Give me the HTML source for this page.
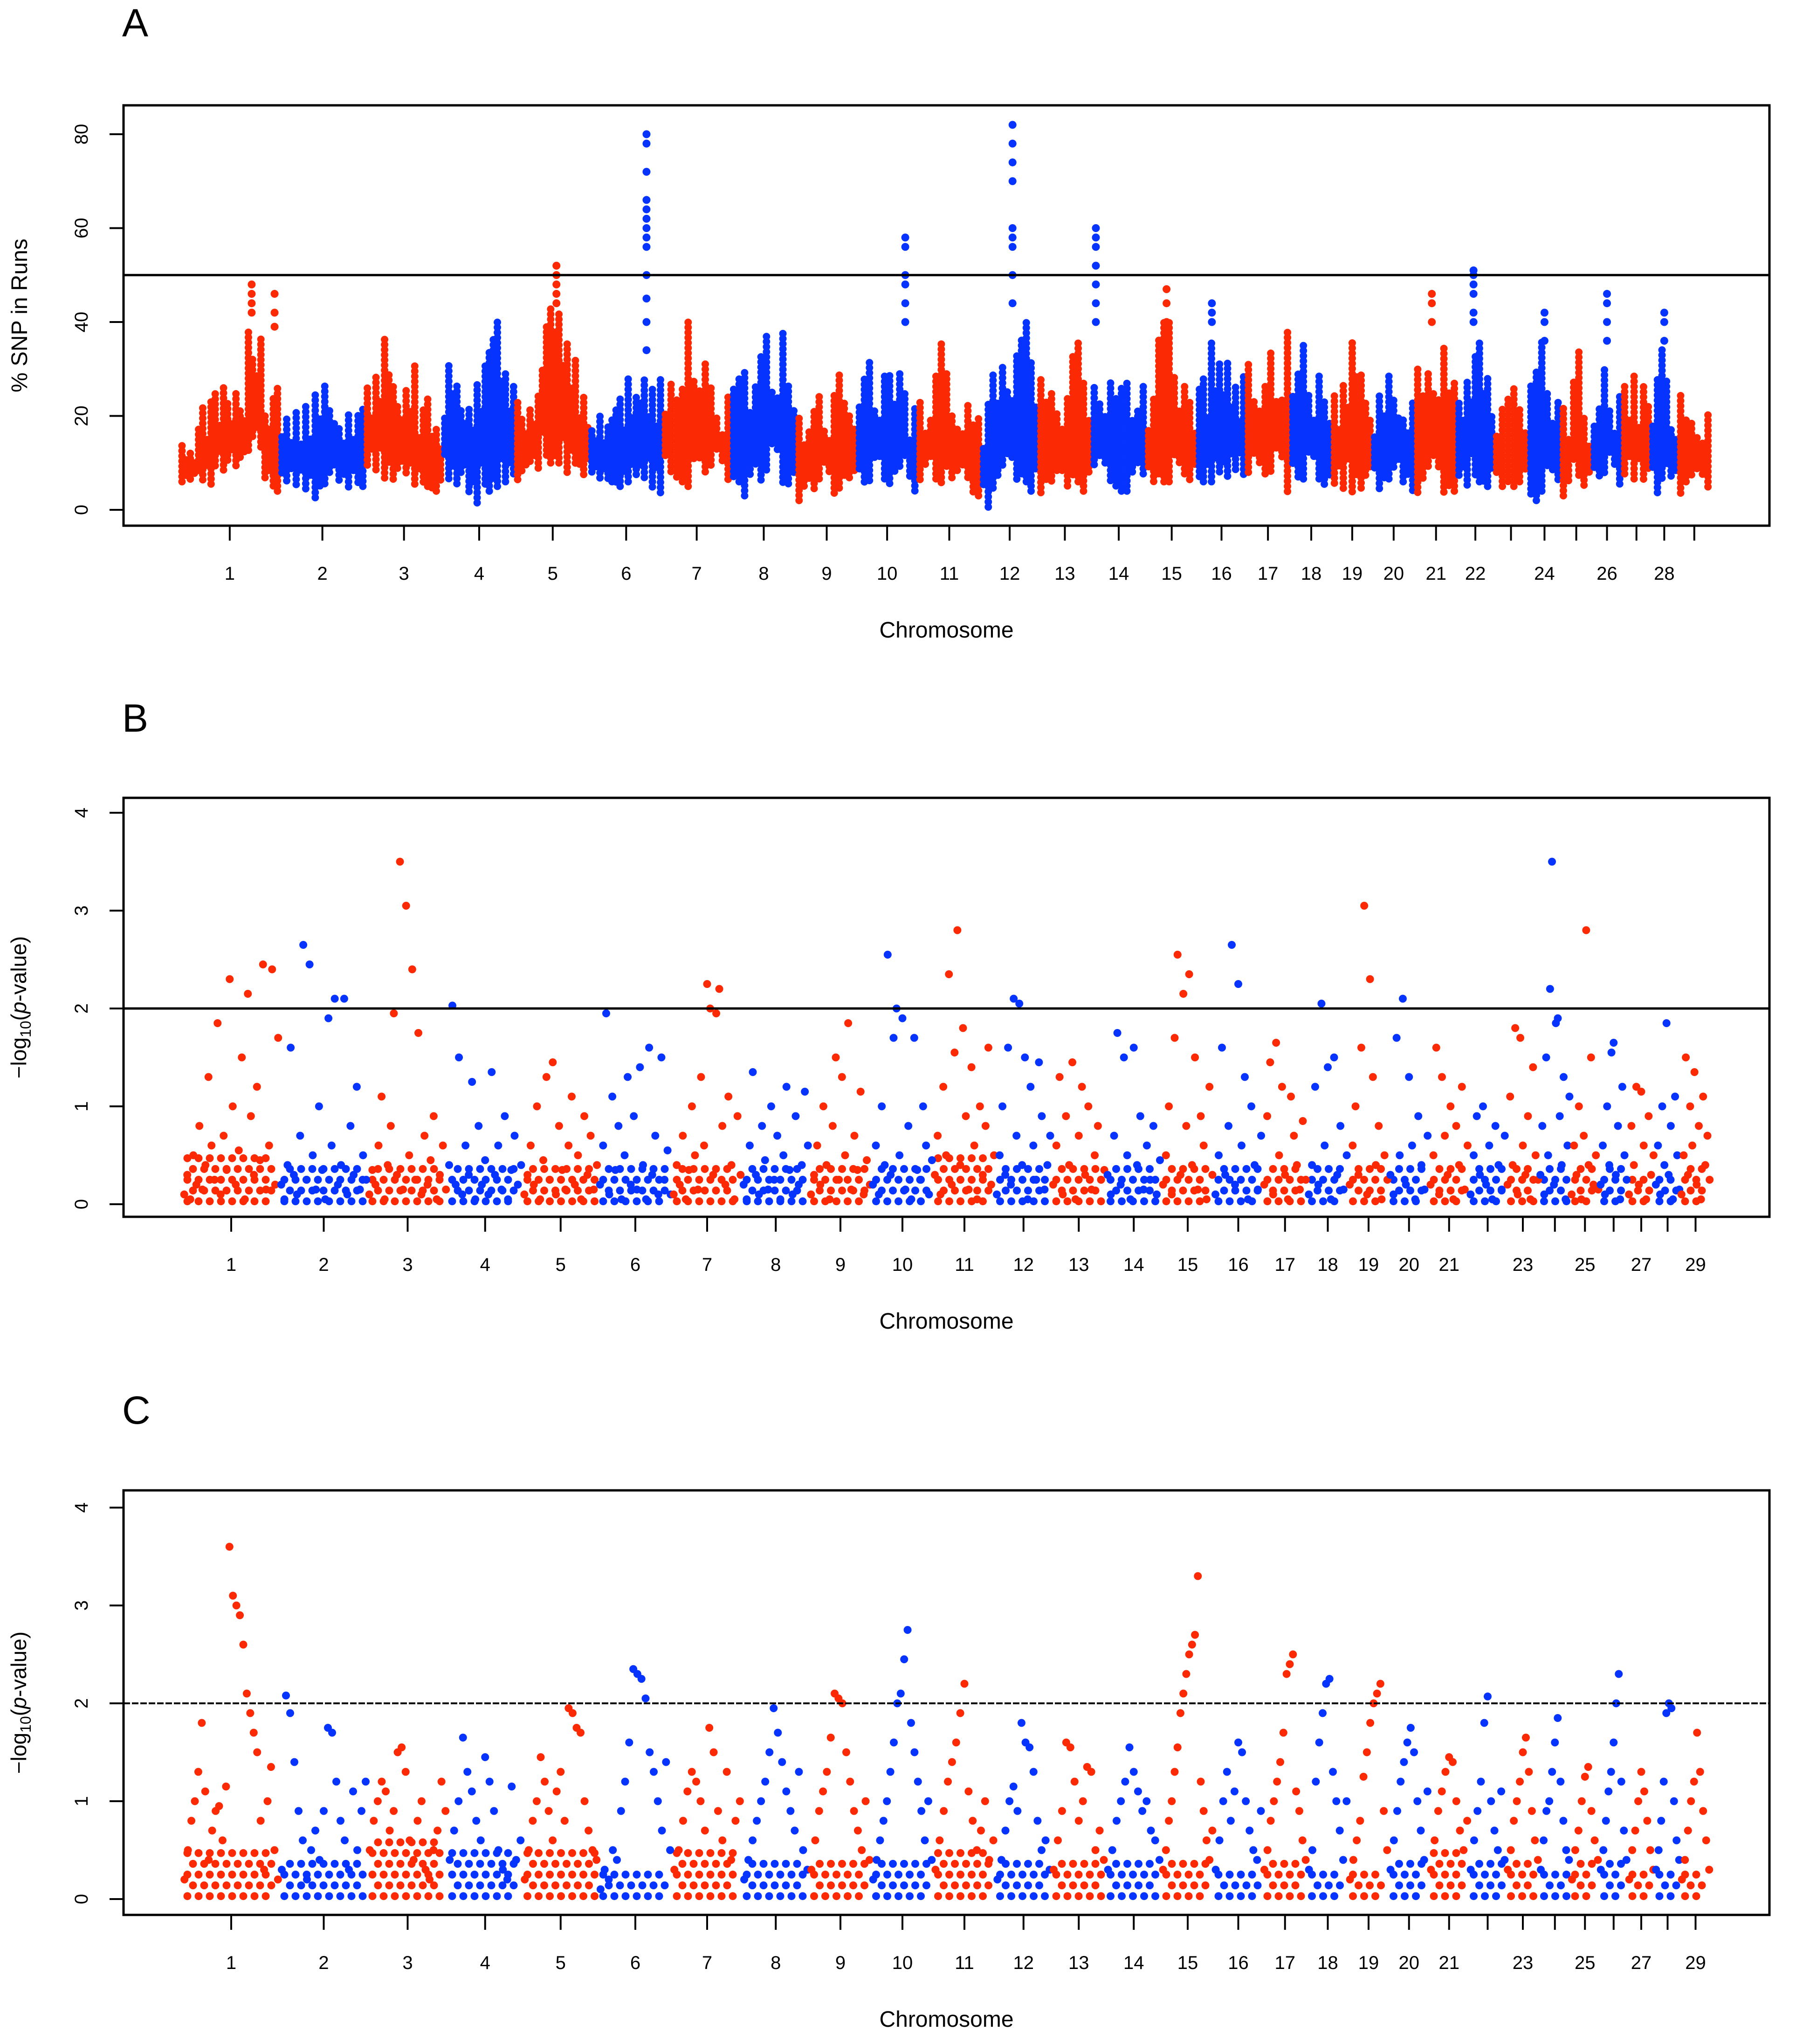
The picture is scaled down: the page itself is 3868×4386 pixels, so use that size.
<!DOCTYPE html>
<html><head><meta charset="utf-8">
<style>
html,body{margin:0;padding:0;background:#fff;}
svg{display:block;font-family:"Liberation Sans",Arial,sans-serif;}
</style></head>
<body>
<svg id="fig" xmlns="http://www.w3.org/2000/svg" width="3868" height="4386" viewBox="0 0 3868 4386">
<rect x="0" y="0" width="3868" height="4386" fill="#fff"/>
<text x="262" y="78" font-size="84">A</text>
<text x="262" y="1570" font-size="84">B</text>
<text x="262" y="3055" font-size="84">C</text>
<g id="pa"></g>
<g id="pb"></g>
<g id="pc"></g>
</svg>
<script>
const NS="http://www.w3.org/2000/svg";
const RED="#fb2a05", BLUE="#0733ff";
const chromLengthsA=[214,184,166.5,156.5,159.5,156,147,141,129.5,130,137,122.5,114.5,117,110.5,103.5,96,90,86,92,90,79,74,70,66.5,65.5,61,58.5,70.5];
const chromLengthsBC=[208,189,171,161.5,162.5,158,150,144.5,133,133,133,120.5,116.5,119.5,112,105,95.5,88,87,86.5,85.5,80,71,66.5,62.5,60.5,58,55,65];
const labelsA=["1","2","3","4","5","6","7","8","9","10","11","12","13","14","15","16","17","18","19","20","21","22","","24","","26","","28",""];
const labelsBC=["1","2","3","4","5","6","7","8","9","10","11","12","13","14","15","16","17","18","19","20","21","","23","","25","","27","","29"];
const ticksA=[0,20,40,60,80];
const ticksBC=[0,1,2,3,4];
// Panel A: per-chromosome bins [lo,hi] of % SNP in runs
const binsA=[
[[6,14],[5,25],[8,28],[9,26],[12,40],[4,26]],
[[5,22],[4,24],[2,26],[5,28],[4,22],[5,22]],
[[8,30],[6,38],[6,28],[4,34],[5,24],[4,18]],
[[6,32],[5,28],[0,30],[4,34],[5,40],[6,30]],
[[6,24],[8,26],[10,43],[10,42],[8,36],[6,28]],
[[6,22],[6,20],[5,24],[6,28],[5,32],[3,30]],
[[7,30],[6,26],[5,40],[6,36],[8,30],[6,26]],
[[6,28],[3,30],[4,38],[6,42],[5,40],[5,28]],
[[2,20],[3,25],[5,28],[3,26],[4,30],[4,26]],
[[4,32],[4,36],[6,30],[5,30],[5,38],[3,24]],
[[5,26],[6,30],[5,38],[4,26],[6,24],[3,20]],
[[0,24],[4,30],[5,40],[5,36],[6,40],[4,32]],
[[3,30],[2,34],[4,26],[6,36],[4,28]],
[[6,34],[5,30],[4,26],[4,28],[6,30]],
[[5,26],[6,40],[6,40],[6,30],[5,26]],
[[6,28],[6,36],[5,36],[7,30]],
[[8,32],[6,30],[6,38],[3,40]],
[[5,34],[4,41],[6,30],[5,24]],
[[4,28],[3,38],[4,30]],
[[4,26],[6,30],[3,26]],
[[3,32],[5,38],[2,38],[4,28]],
[[4,30],[6,36],[5,28]],
[[4,24],[5,26],[6,22]],
[[2,30],[4,36],[5,26]],
[[3,22],[5,39],[4,22]],
[[6,24],[6,34],[5,26]],
[[6,30],[6,28]],
[[3,30],[6,36],[5,22]],
[[3,26],[5,24],[4,22]]];
// Panel A spikes: chromosome index, fraction along chromosome, values
const spikeChrA=[1,1,5,6,10,12,14,22,16,26,24,28,21,15];
const spikePosA=[0.72,0.95,0.55,0.78,0.8,0.55,0.08,0.45,0.3,0.5,0.5,0.5,0.4,0.4];
const spikeValsA=[[42,44,46,48],[39,42,46],[44,46,48,50,52],[34,40,45,50,56,58,60,62,64,66,72,78,80],[40,44,48,50,56,58],[44,50,56,58,60,70,74,78,82],[40,44,48,52,56,58,60],[40,42,46,48,50,51],[40,42,44],[36,40,44,46],[36,40,42],[36,40,42],[40,44,46],[40,44,47]];
// Panel B
const bandB=[0.5,0.45,0.45,0.45,0.45,0.45,0.45,0.45,0.45,0.45,0.5,0.45,0.45,0.45,0.45,0.4,0.4,0.4,0.4,0.4,0.45,0.45,0.4,0.45,0.4,0.4,0.35,0.35,0.4];
const valsB=[
[0.1,0.3,0.05,0.5,0.2,0.8,0.15,0.4,1.3,0.6,0.25,1.85,0.1,0.7,0.35,2.3,1.0,0.2,0.55,1.5,0.05,2.15,0.9,0.3,1.2,0.45,2.45,0.15,0.6,2.4,0.2,1.7],
[0.2,0.05,0.4,1.6,0.3,0.1,0.7,2.65,0.25,2.45,0.5,0.15,1.0,0.35,0.05,1.9,0.6,2.1,0.2,0.4,2.1,0.1,0.8,0.3,1.2,0.15,0.5,0.25],
[0.1,0.35,0.2,0.6,1.1,0.05,0.4,0.8,1.95,0.3,3.5,0.15,3.05,0.5,2.4,0.25,1.75,0.1,0.7,0.2,0.45,0.9,0.05,0.3,0.6,0.15],
[0.4,2.03,0.2,1.5,0.1,0.6,0.3,1.25,0.05,0.8,0.2,0.45,0.1,1.35,0.3,0.6,0.15,0.9,0.05,0.35,0.7,0.2,0.4],
[0.1,0.3,0.6,0.2,1.0,0.05,0.45,1.3,0.25,1.45,0.1,0.8,0.35,0.15,0.6,1.1,0.2,0.5,0.05,0.9,0.3,0.7,0.15,0.4],
[0.2,0.6,1.95,0.1,1.1,0.35,0.8,0.05,0.5,1.3,0.2,0.9,0.15,1.4,0.4,0.05,1.6,0.3,0.7,0.1,1.5,0.25,0.55,0.1],
[0.1,0.4,0.2,0.7,0.05,0.35,1.0,0.5,0.15,1.3,0.6,2.25,2.0,0.3,1.95,2.2,0.8,0.2,1.1,0.4,0.05,0.9,0.3],
[0.2,0.05,0.6,1.35,0.3,0.1,0.8,0.45,0.15,1.0,0.25,0.7,0.05,0.5,1.2,0.35,0.1,0.9,0.2,0.4,1.15,0.6],
[0.1,0.3,0.6,0.2,1.0,0.4,0.05,0.8,1.5,0.25,1.3,0.5,1.85,0.15,0.7,0.35,1.15,0.1,0.45,0.2],
[0.2,0.6,0.1,1.0,0.4,2.55,0.3,1.7,2.0,0.5,1.9,0.15,0.8,0.05,1.7,0.35,0.25,1.0,0.6,0.1,0.45],
[0.3,0.7,0.1,1.2,0.5,2.35,0.2,1.55,2.8,0.4,1.8,0.9,0.15,1.4,0.6,0.05,1.0,0.3,0.8,1.6,0.2,0.5],
[0.1,0.5,1.0,0.3,1.6,0.2,2.1,0.7,2.05,0.4,1.5,0.05,1.2,0.6,0.25,1.45,0.9,0.15,0.4,0.7],
[0.2,0.6,1.3,0.1,0.9,0.4,1.45,0.05,0.7,1.2,0.3,1.0,0.15,0.5,0.8,0.25,0.35],
[0.3,0.1,0.7,1.75,0.2,1.5,0.5,0.05,1.6,0.4,0.9,0.15,0.6,0.25,0.8,0.1,0.45],
[0.2,0.5,1.0,0.1,1.7,2.55,0.3,2.15,0.8,2.35,0.4,1.5,0.15,0.9,0.6,0.05,1.2,0.3],
[0.1,0.5,1.6,0.3,0.8,2.65,0.2,2.25,0.6,1.3,0.05,1.0,0.4,0.15,0.7],
[0.2,0.9,1.45,0.1,1.65,0.5,1.2,0.3,0.05,1.1,0.7,0.4,0.15,0.85,0.25],
[0.1,0.4,1.2,0.2,2.05,0.6,1.4,0.05,1.5,0.3,0.8,0.15,0.5],
[0.2,0.6,1.0,0.3,1.6,3.05,0.1,2.3,1.3,0.4,0.8,0.05,0.5,0.25],
[0.3,0.1,1.7,0.5,2.1,0.2,1.3,0.6,0.05,0.9,0.4,0.15,0.7],
[0.2,0.5,1.6,0.1,1.3,0.7,0.3,1.0,0.05,0.8,0.4,1.2,0.15,0.6],
[0.1,0.5,0.9,0.3,1.0,0.2,0.6,0.05,0.8,0.4,0.15,0.7],
[0.2,1.1,0.4,1.8,0.1,1.7,0.6,0.3,0.9,0.05,1.4,0.5,0.25],
[0.3,0.8,0.1,1.5,0.5,2.2,3.5,0.2,1.85,1.9,0.9,0.4,1.3,0.05,0.6,1.1],
[0.1,0.6,0.3,1.0,0.05,0.7,2.8,0.4,1.5,0.2,0.5,0.15],
[0.2,0.6,0.1,1.0,0.4,1.55,1.65,0.3,0.8,0.05,1.2,0.5,0.25],
[0.1,0.8,0.4,1.2,0.2,1.15,0.6,0.05,0.9,0.3,0.5],
[0.2,0.6,0.1,1.0,0.4,1.85,0.3,0.8,0.05,1.1,0.5,0.15],
[0.1,0.5,1.5,0.3,1.0,0.6,1.35,0.2,0.8,0.05,1.1,0.4,0.7,0.25]];
// Panel C
const bandC=[0.5,0.4,0.6,0.5,0.5,0.35,0.5,0.45,0.45,0.4,0.55,0.45,0.45,0.45,0.4,0.35,0.4,0.35,0.3,0.4,0.5,0.45,0.45,0.35,0.4,0.45,0.35,0.35,0.35];
const valsC=[
[0.2,0.5,0.8,1.0,1.3,1.8,1.1,0.4,0.7,0.9,0.95,0.6,1.15,3.6,3.1,3.0,2.9,2.6,2.1,1.9,1.7,1.5,0.8,0.3,1.0,1.35,0.5,0.2],
[0.3,2.08,1.9,1.4,0.9,0.6,0.2,0.5,0.7,0.4,0.9,1.75,1.7,1.2,0.8,0.6,0.3,1.1,0.5,0.9,1.2],
[0.5,0.8,1.0,1.2,1.1,0.7,0.9,1.5,1.55,1.3,0.6,0.4,0.8,1.0,0.3,0.2,0.5,0.7,1.2,0.9],
[0.4,0.7,1.0,1.65,1.3,1.1,0.8,0.6,1.45,1.2,0.9,0.5,0.3,0.2,1.15,0.4,0.6],
[0.2,0.5,0.8,1.0,1.45,1.2,0.9,0.6,1.1,1.3,0.8,1.95,1.9,1.75,1.7,1.0,0.7,0.5,0.4],
[0.1,0.3,0.2,0.5,0.4,0.9,1.2,1.6,2.35,2.3,2.25,2.05,1.5,1.3,1.0,0.7,1.4,0.5],
[0.3,0.5,0.8,1.1,1.3,1.2,1.0,0.7,1.75,1.5,0.9,0.6,1.3,0.4,0.8,1.0],
[0.2,0.4,0.6,0.8,1.0,1.2,1.5,1.95,1.7,1.4,1.1,0.9,0.7,1.3,0.5,0.3],
[0.3,0.6,0.9,1.1,1.3,1.65,2.1,2.05,2.0,1.5,1.2,0.9,0.7,0.5,1.0,0.4],
[0.2,0.4,0.6,0.8,1.0,1.3,1.6,2.0,2.1,2.45,2.75,1.8,1.5,1.2,0.9,0.6,1.0,0.4],
[0.3,0.6,0.9,1.2,1.4,1.6,1.9,2.2,1.1,0.8,0.5,0.7,1.0,0.4,0.6],
[0.2,0.4,0.7,1.0,1.15,0.9,1.8,1.6,1.55,1.3,0.8,0.5,0.6,0.3],
[0.3,0.6,0.9,1.6,1.55,1.2,0.8,1.0,1.35,1.3,0.5,0.7,0.4],
[0.3,0.5,0.8,1.0,1.2,1.55,1.3,1.1,0.9,1.0,0.7,0.6,0.4],
[0.3,0.5,0.8,1.0,1.3,1.55,1.9,2.1,2.3,2.5,2.6,2.7,3.3,1.2,0.9,0.6,0.4,0.7],
[0.3,0.6,1.0,1.3,0.8,1.1,1.6,1.5,1.0,0.7,0.5,0.4,0.9],
[0.3,0.5,0.8,1.0,1.2,1.4,1.7,2.3,2.4,2.5,1.1,0.9,0.6,0.4],
[0.3,0.5,1.2,1.6,1.9,2.2,2.25,1.3,1.0,0.7,0.4,1.0],
[0.2,0.4,0.6,0.8,1.25,1.5,1.8,2.0,2.1,2.2,0.9,0.5],
[0.3,0.6,0.9,1.2,1.4,1.6,1.75,1.5,1.0,0.7,0.4,1.1],
[0.3,0.6,0.9,1.1,1.3,1.45,1.4,1.0,0.7,0.5,0.8],
[0.3,0.6,0.9,1.2,1.8,2.07,1.0,0.7,0.5,1.1,0.4],
[0.3,0.5,0.8,1.0,1.2,1.5,1.65,1.3,0.9,0.6,0.4],
[0.3,0.6,0.9,1.0,1.3,1.6,1.85,1.2,0.8,0.5,0.4],
[0.2,0.5,0.7,1.0,1.25,1.35,0.9,0.6,0.4],
[0.3,0.5,0.8,1.1,1.3,1.6,2.0,2.3,1.2,0.7,0.4],
[0.2,0.5,0.7,1.0,1.3,1.1,0.8,0.5,0.3],
[0.3,0.5,0.8,1.2,1.9,2.0,1.95,1.0,0.6,0.4],
[0.2,0.4,0.7,1.0,1.2,1.7,1.3,0.9,0.6,0.3]];

// ---- layout ----
const BOX_L=265, BOX_R=3796, R=8.5;
function makeLayout(lengths,L,Rr){
  const total=lengths.reduce((a,b)=>a+b,0);
  const starts=[]; let c=0; for(const v of lengths){starts.push(c); c+=v;}
  const xm=m=>L+(m/total)*(Rr-L);
  return {lengths, x0:i=>xm(starts[i]), w:i=>xm(starts[i]+lengths[i])-xm(starts[i])};
}
const layA=makeLayout(chromLengthsA,386,3670);
const layBC=makeLayout(chromLengthsBC,392,3670);
function col(i){return i%2===0?RED:BLUE;}
function mk(tag,attrs,parent){const e=document.createElementNS(NS,tag);for(const k in attrs)e.setAttribute(k,attrs[k]);parent.appendChild(e);return e;}

function axes(g,cfg){
  const yS=cfg.yScale, lay=cfg.lay;
  const box=mk("rect",{x:BOX_L,y:cfg.top,width:BOX_R-BOX_L,height:cfg.bottom-cfg.top,fill:"none",stroke:"#000","stroke-width":5},g);
  
  
  const th=mk("line",{x1:BOX_L,x2:BOX_R,y1:yS(cfg.thr),y2:yS(cfg.thr),stroke:"#000","stroke-width":cfg.dash?4:5},g);
  if(cfg.dash) th.setAttribute("stroke-dasharray","14 4");
  
  
  cfg.yticks.forEach(v=>{
    const y=yS(v);
    const t=mk("line",{x1:BOX_L-30,x2:BOX_L,y1:y,y2:y,stroke:"#000","stroke-width":4},g);
    
    
    const tx=mk("text",{x:0,y:0,transform:`translate(188,${y}) rotate(-90)`,"text-anchor":"middle","font-size":40},g);
    tx.textContent=String(v);
    
    
  });
  lay.lengths.forEach((L,i)=>{
    const x=lay.x0(i)+lay.w(i)/2;
    const t=mk("line",{x1:x,x2:x,y1:cfg.bottom,y2:cfg.bottom+32,stroke:"#000","stroke-width":4},g);
    
    
    if(cfg.xlabels[i]){
      const tx=mk("text",{x:x,y:cfg.bottom+116,"text-anchor":"middle","font-size":40},g);
      tx.textContent=cfg.xlabels[i];
      
      
    }
  });
  const xt=mk("text",{x:(BOX_L+BOX_R)/2,y:cfg.bottom+240,"text-anchor":"middle","font-size":48},g);
  xt.textContent="Chromosome";
  
  
}
function yTitleLog(g,cy,id){
  const t=mk("text",{x:0,y:0,transform:`translate(56,${cy}) rotate(-90)`,"text-anchor":"middle","font-size":46},g);
  t.innerHTML='\u2212log<tspan font-size="32" dy="10">10</tspan><tspan dy="-10">(</tspan><tspan font-style="italic">p</tspan>-value)';
  
  
}

// ---- Panel A ----
(function(){
  const g=document.getElementById("pa");
  const top=226,bottom=1128, lay=layA;
  const yS=v=>1094-v*10.075;
  const colPattern=[1,0.66,0.86,0.55,0.95,0.74,0.6,0.9];
  const dots=mk("g",{},g);
  
  
  binsA.forEach((bins,i)=>{
    const x0=lay.x0(i),w=lay.w(i),bw=w/bins.length;
    bins.forEach((b,j)=>{
      const n=Math.max(2,Math.round(bw/10));
      for(let k=0;k<n;k++){
        const x=x0+j*bw+(k+0.5)*bw/n;
        const f=colPattern[(k+j+i)%colPattern.length];
        const hi=b[0]+(b[1]-b[0])*f;
        const lo=b[0]+(b[1]-b[0])*(1-f)*0.5;
        const ln=mk("line",{x1:x,x2:x,y1:yS(lo),y2:yS(hi),stroke:col(i),"stroke-width":16,"stroke-linecap":"round","stroke-dasharray":"0 11"},dots);
        
        
      }
    });
  });
  spikeChrA.forEach((c,s)=>{
    const i=c-1,x=lay.x0(i)+lay.w(i)*spikePosA[s];
    spikeValsA[s].forEach(v=>{
      const ci=mk("circle",{cx:x,cy:yS(v),r:R,fill:col(i)},dots);
      
      
    });
  });
  axes(g,{id:"panel-a",top,bottom,yScale:yS,thr:50,yticks:ticksA,xlabels:labelsA,dash:false,lay});
  const t=mk("text",{x:0,y:0,transform:`translate(58,${(top+bottom)/2}) rotate(-90)`,"text-anchor":"middle","font-size":48},g);
  t.textContent="% SNP in Runs";
  
  
})();

// ---- Panels B & C ----
function pvalPanel(gid,id,top,bottom,zeroY,band,vals,dash){
  const g=document.getElementById(gid);
  const lay=layBC;
  const yS=v=>zeroY-v*210;
  const dots=mk("g",{},g);
  
  
  band.forEach((bt,i)=>{
    const x0=lay.x0(i),w=lay.w(i);
    let row=0;
    for(let v=0.03; v<=bt; v+=0.11,row++){
      const off=(row%2)*12;
      for(let x=x0+10+off; x<x0+w-8; x+=24){
        const c=mk("circle",{cx:x,cy:yS(v),r:R,fill:col(i)},dots);
        
        
      }
    }
  });
  vals.forEach((arr,i)=>{
    const x0=lay.x0(i),w=lay.w(i);
    arr.forEach((v,j)=>{
      const c=mk("circle",{cx:x0+(j+0.5)/arr.length*w,cy:yS(v),r:R,fill:col(i)},dots);
      
      
    });
  });
  axes(g,{id,top,bottom,yScale:yS,thr:2,yticks:ticksBC,xlabels:labelsBC,dash,lay});
  yTitleLog(g,(top+bottom)/2,id);
}
pvalPanel("pb","panel-b",1712,2611,2584,bandB,valsB,false);
pvalPanel("pc","panel-c",3198,4109,4075,bandC,valsC,true);
</script>
</body></html>
